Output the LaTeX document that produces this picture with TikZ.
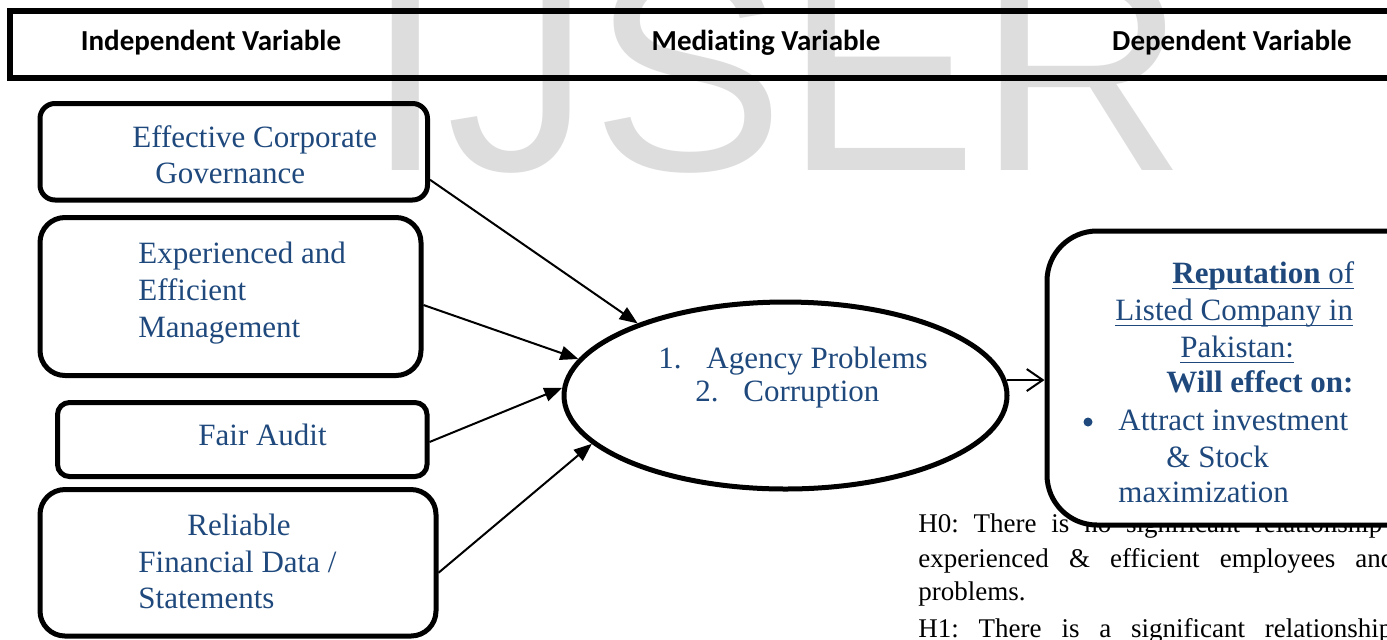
\documentclass[tikz,border=0pt]{standalone}
\usepackage{fontspec}
\usetikzlibrary{shapes.geometric,arrows.meta,calc}
\newfontfamily\calib{Carlito}[Ligatures=NoCommon]
\newfontfamily\wmfont{Liberation Sans}
\newfontfamily\pala{Liberation Serif}
\definecolor{txtblue}{HTML}{1F497D}
\definecolor{wmgray}{HTML}{DDDDDD}
\newcommand{\ulx}[1]{\setbox0\hbox{#1}\rlap{\rule[-3pt]{\wd0}{0.7pt}}\box0}
\tikzset{
  box/.style={draw, line width=2.5pt, inner sep=0},
  btxt/.style={font=\pala\fontsize{15.5}{18}\selectfont, text=txtblue, inner sep=0, anchor=base west},
  htxt/.style={font=\calib\bfseries\fontsize{14.5}{17}\selectfont, inner sep=0, anchor=base},
  ktxt/.style={font=\pala\fontsize{13.5}{15}\selectfont, inner sep=0, anchor=base west},
  arr/.style={line width=1pt, -{Triangle[length=9pt,width=7pt]}},
}
\begin{document}
\begin{tikzpicture}[x=0.5pt, y=-0.5pt]
\useasboundingbox (0,0) rectangle (1387,639);
\clip (0,0) rectangle (1387,639);
% watermark
\node[font=\wmfont\fontsize{145}{145}\selectfont, text=wmgray, anchor=base west, inner sep=0] (wm) at (365,170) {IJSER};
% header bar
\node[box, line width=2.75pt, minimum width=720pt, minimum height=33.5pt] (hdr) at (730,44.5) {};
\node[htxt] (h1) at (211,50) {Independent Variable};
\node[htxt] (h2) at (766,50) {Mediating Variable};
\node[htxt] (h3) at (1232,50) {Dependent Variable};
% hypothesis text (partly behind the right box)
\node[ktxt] (p1) at (918,532) {\hbox to 232pt{H0:\hfill There\hfill is\hfill no\hfill significant\hfill relationship}};
\node[ktxt] (p2) at (918,567) {\hbox to 238pt{experienced\hfill \&\hfill efficient\hfill employees\hfill and}};
\node[ktxt] (p3) at (918,600) {problems.};
\node[ktxt] (p4) at (918,637) {\hbox to 237pt{H1:\hfill There\hfill is\hfill a\hfill significant\hfill relationship}};
% left boxes
\node[box, rounded corners=7.5pt, minimum width=193.75pt, minimum height=48.25pt] (b1) at (233.75,151.75) {};
\node[box, rounded corners=12.5pt, minimum width=190.5pt, minimum height=79pt] (b2) at (230.5,296.5) {};
\node[box, rounded corners=6pt, minimum width=184.75pt, minimum height=37pt] (b3) at (242.25,439.5) {};
\node[box, rounded corners=12.5pt, minimum width=198pt, minimum height=73.25pt] (b4) at (238,562.75) {};
\node[btxt] (t1a) at (132,147) {Effective Corporate};
\node[btxt] (t1b) at (155,183) {Governance};
\node[btxt] (t2a) at (138,263) {Experienced and};
\node[btxt] (t2b) at (138,300) {Efficient};
\node[btxt] (t2c) at (138,337) {Management};
\node[btxt] (t3a) at (198,445) {Fair Audit};
\node[btxt] (t4a) at (187,535) {Reliable};
\node[btxt] (t4b) at (138,572) {Financial Data /};
\node[btxt] (t4c) at (138,608) {Statements};
% mediating ellipse
\node[ellipse, draw, line width=2.5pt, minimum width=221.5pt, minimum height=93.5pt, inner sep=0] (ell) at (785.5,395.5) {};
\node[btxt] (e1n) at (658,368) {1.};
\node[btxt] (e1) at (706,368) {Agency Problems};
\node[btxt] (e2n) at (695,401) {2.};
\node[btxt] (e2) at (743,401) {Corruption};
% dependent box
\node[box, fill=white, rounded corners=25pt, minimum width=201.5pt, minimum height=147pt] (rb) at (1248.5,378) {};
\node[btxt] (r1) at (1172,283) {\ulx{\textbf{Reputation} of}};
\node[btxt] (r2) at (1115,320) {\ulx{Listed Company in}};
\node[btxt] (r3) at (1180,357) {\ulx{Pakistan:}};
\node[btxt] (r4) at (1166,392) {\textbf{Will effect on:}};
\node[circle, fill=txtblue, inner sep=0, minimum size=4.5pt] (r5b) at (1088,422) {};
\node[btxt] (r5) at (1118,430) {Attract investment};
\node[btxt] (r6) at (1166,467) {\& Stock};
\node[btxt] (r7) at (1118,502) {maximization};
% connectors
\draw[arr] ($(b1.east)+(0,28)$) -- (ell.154);
\draw[arr] ($(b2.east)+(0,8.5)$) -- (ell.170);
\draw[arr] ($(b3.east)+(0,2.5)$) -- (ell.178);
\draw[arr] ($(b4.east)+(0,10)$) -- (ell.194);
\draw[line width=1pt, -{Straight Barb[length=8pt,width=11pt]}] (ell.4) -- (ell.4 -| rb.west);
\end{tikzpicture}
\end{document}
